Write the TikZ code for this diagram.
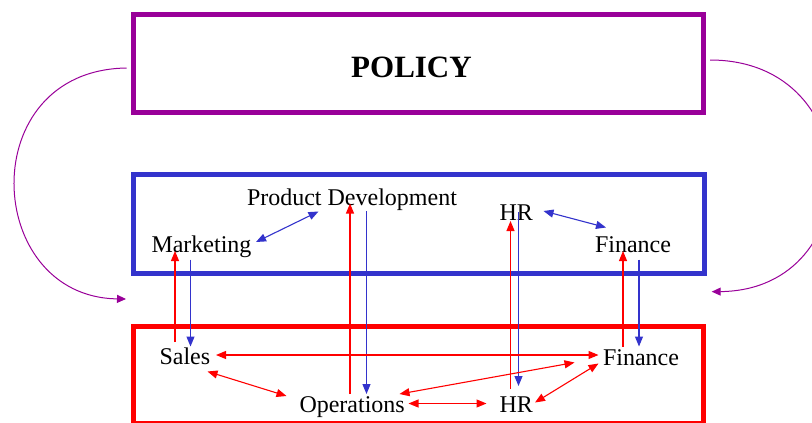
\documentclass[tikz,border=0pt]{standalone}
\usepackage{fontspec}
\setmainfont{Liberation Serif}
\usetikzlibrary{arrows.meta}
\definecolor{polpurple}{RGB}{153,0,153}
\definecolor{orgblue}{RGB}{51,51,204}
\definecolor{opred}{RGB}{255,0,0}
\begin{document}
\begin{tikzpicture}[x=1pt,y=-1pt,
  box/.style={draw, line width=5pt, rectangle, inner sep=0pt, outer sep=0pt},
  lbl/.style={inner sep=0pt, outer sep=0pt, anchor=base west, font=\fontsize{24}{28}\selectfont},
  one/.style={line width=1.1pt, -{Triangle[length=10pt,width=8pt]}},
  two/.style={line width=1.1pt, {Triangle[length=10pt,width=8pt]}-{Triangle[length=10pt,width=8pt]}},
  loopback/.style={draw=polpurple, line width=1pt, -{Triangle[length=9pt,width=8pt]}}
]
\useasboundingbox (0,0) rectangle (812,423);
\clip (0,0) rectangle (812,423);
\fill[white] (0,0) rectangle (812,423);

% boxes
\node[box, draw=polpurple, minimum width=570.2pt, minimum height=98.2pt] (policy) at (418.4,63.4) {};
\node[anchor=base west, inner sep=0pt, font=\fontsize{31}{36}\selectfont\bfseries] (policytext) at (351,77) {POLICY};
\node[box, draw=orgblue, minimum width=570.7pt, minimum height=99pt] (org) at (418.65,223.5) {};
\node[box, draw=opred, minimum width=570.2pt, minimum height=97.5pt] (ops) at (418.4,374.75) {};

% labels
\node[lbl] (pd) at (247,205) {Product Development};
\node[lbl] (mk) at (151.5,252.5) {Marketing};
\node[lbl] (hrT) at (499.5,220) {HR};
\node[lbl] (fiT) at (595,252.5) {Finance};
\node[lbl] (sa) at (159.5,364.5) {Sales};
\node[lbl] (fiB) at (603,365) {Finance};
\node[lbl] (op) at (299.5,412.5) {Operations};
\node[lbl] (hrB) at (499.5,412.5) {HR};

% policy loops
\draw[loopback] ([shift={(-6.6,4.6)}]policy.west) .. controls +(-153.7,2) and +(-143,-2) .. ([shift={(-7.3,26)}]org.south west);
\draw[loopback] ([shift={(6.5,-3.4)}]policy.east) .. controls +(160,0) and +(158,-1.7) .. ([shift={(7.7,18.7)}]org.south east);

% vertical links
\draw[one, opred] ([shift={(15.5,-22.5)}]sa.base west) -- ([shift={(23.5,-1.5)}]mk.base west);
\draw[one, orgblue] ([shift={(39,7)}]mk.base west) -- ([shift={(31,-18)}]sa.base west);
\draw[one, opred] ([shift={(50.5,-18.5)}]op.base west) -- ([shift={(103,-1.5)}]pd.base west);
\draw[one, orgblue] ([shift={(119.5,6)}]pd.base west) -- ([shift={(67,-18.5)}]op.base west);
\draw[one, opred] ([shift={(11,-24)}]hrB.base west) -- ([shift={(11,1)}]hrT.base west);
\draw[one, orgblue] ([shift={(19,-8)}]hrT.base west) -- ([shift={(19,-26.5)}]hrB.base west);
\draw[one, opred] ([shift={(20,-18.5)}]fiB.base west) -- ([shift={(28,-1.5)}]fiT.base west);
\draw[one, orgblue] ([shift={(44,7)}]fiT.base west) -- ([shift={(36,-18.5)}]fiB.base west);

% two-way links
\draw[two, orgblue] ([shift={(104.5,-10.5)}]mk.base west) -- ([shift={(71.5,6.5)}]pd.base west);
\draw[two, orgblue] ([shift={(44,-9)}]hrT.base west) -- ([shift={(11,-25)}]fiT.base west);
\draw[two, opred] ([shift={(56.5,-9.5)}]sa.base west) -- ([shift={(-4.5,-10)}]fiB.base west);
\draw[two, opred] ([shift={(48,7)}]sa.base west) -- ([shift={(-13,-16.5)}]op.base west);
\draw[two, opred] ([shift={(100,-18.5)}]op.base west) -- ([shift={(-28.5,-2.5)}]fiB.base west);
\draw[two, opred] ([shift={(109,-9)}]op.base west) -- ([shift={(-13,-9)}]hrB.base west);
\draw[two, opred] ([shift={(35.5,-10)}]hrB.base west) -- ([shift={(-4.5,-1.5)}]fiB.base west);
\end{tikzpicture}
\end{document}
